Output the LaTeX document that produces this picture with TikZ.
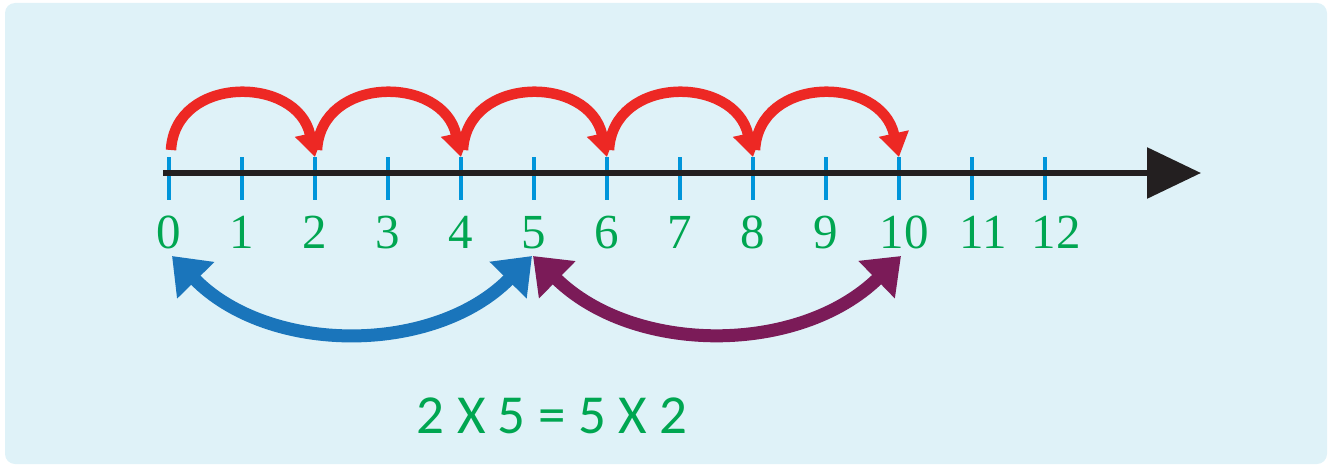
\documentclass[tikz,border=0pt]{standalone}
\usepackage{fontspec}
\setmainfont{Liberation Serif}
\newfontfamily\eqfont{Carlito}
\usetikzlibrary{arrows.meta,calc}
\definecolor{bgc}{RGB}{223,242,248}
\definecolor{axisc}{RGB}{35,31,32}
\definecolor{tickc}{RGB}{0,149,218}
\definecolor{numc}{RGB}{0,166,81}
\definecolor{hopc}{RGB}{237,40,36}
\definecolor{bluec}{RGB}{26,117,187}
\definecolor{purc}{RGB}{123,27,88}
\tikzset{
  axisline/.style={draw=axisc, line width=6pt, -{Triangle[length=54pt,width=50pt]}},
  tickline/.style={draw=tickc, line width=4pt},
  numlabel/.style={text=numc, font=\fontsize{49}{52}\selectfont, anchor=base, inner sep=0pt},
  hop/.style={draw=hopc, line width=10.5pt, -{Triangle[length=24pt,width=29pt]}},
  swaparc/.style={line width=13pt, {Triangle[length=34pt,width=50pt]}-{Triangle[length=34pt,width=50pt]}},
  eqlabel/.style={text=numc, font=\eqfont\fontsize{55}{60}\selectfont, anchor=base, inner sep=0pt}
}
\begin{document}
\begin{tikzpicture}[x=1pt,y=1pt]
\useasboundingbox (0,-293) rectangle (1329,173);
\fill[bgc, rounded corners=10pt] (5,-291) rectangle (1327,170);
\foreach \k in {0,...,12} { \coordinate (t\k) at ({169+73*\k},0); }
\foreach \k in {0,...,12} { \draw[tickline] ([yshift=16]t\k) -- ([yshift=-27]t\k); }
\coordinate (axs) at (163,0);
\coordinate (axe) at (1201,0);
\draw[axisline] (axs) -- (axe);
\foreach \k in {0,...,9} { \node[numlabel] (l\k) at ([yshift=-75]t\k) {\k}; }
\node[numlabel] (l10) at ([xshift=5,yshift=-75]t10) {10};
\node[numlabel] (l11) at ([xshift=11,yshift=-75]t11) {11};
\node[numlabel] (l12) at ([xshift=11,yshift=-75]t12) {12};
\foreach \k [evaluate=\k as \n using int(\k+2)] in {0,2,4,6,8} {
  \draw[hop] ([xshift=2,yshift=23]t\k) .. controls ([xshift=6,yshift=98]t\k) and ([xshift=-18,yshift=98]t\n) .. ([yshift=16]t\n);
}
\draw[swaparc, draw=bluec] ([xshift=3,yshift=-83]t0) .. controls ([xshift=100,yshift=-182]t0) and ([xshift=-100,yshift=-182]t5) .. ([xshift=-2,yshift=-83]t5);
\draw[swaparc, draw=purc] ([xshift=-1,yshift=-83]t5) .. controls ([xshift=100,yshift=-182]t5) and ([xshift=-100,yshift=-182]t10) .. ([xshift=2,yshift=-83]t10);
\node[eqlabel] (eq) at (552,-260) {2 X 5 = 5 X 2};
\end{tikzpicture}
\end{document}
